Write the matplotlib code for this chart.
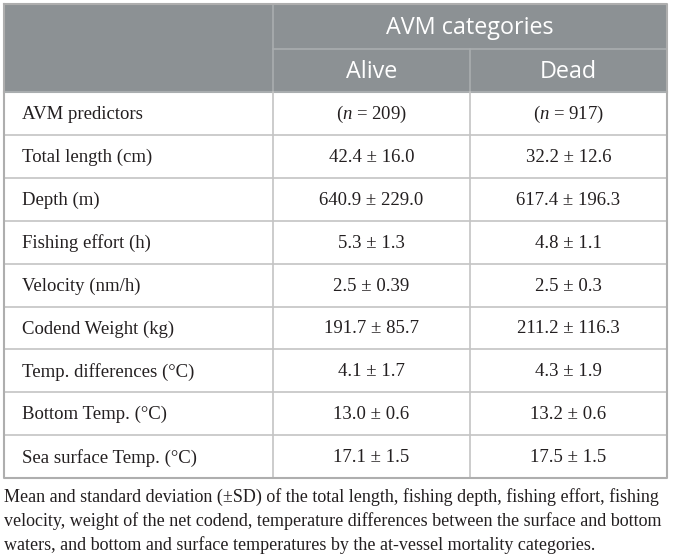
import matplotlib
matplotlib.use("Agg")
import matplotlib.pyplot as plt
from matplotlib.patches import Rectangle

# table content
group_title = "AVM categories"
col_titles = ["Alive", "Dead"]
row_labels = ["AVM predictors", "Total length (cm)", "Depth (m)", "Fishing effort (h)",
              "Velocity (nm/h)", "Codend Weight (kg)", "Temp. differences (\u00b0C)",
              "Bottom Temp. (\u00b0C)", "Sea surface Temp. (\u00b0C)"]
alive_vals = ["(n = 209)", "42.4 \u00b1 16.0", "640.9 \u00b1 229.0", "5.3 \u00b1 1.3",
              "2.5 \u00b1 0.39", "191.7 \u00b1 85.7", "4.1 \u00b1 1.7", "13.0 \u00b1 0.6",
              "17.1 \u00b1 1.5"]
dead_vals = ["(n = 917)", "32.2 \u00b1 12.6", "617.4 \u00b1 196.3", "4.8 \u00b1 1.1",
             "2.5 \u00b1 0.3", "211.2 \u00b1 116.3", "4.3 \u00b1 1.9", "13.2 \u00b1 0.6",
             "17.5 \u00b1 1.5"]
caption_lines = [
    "Mean and standard deviation (\u00b1SD) of the total length, fishing depth, fishing effort, fishing",
    "velocity, weight of the net codend, temperature differences between the surface and bottom",
    "waters, and bottom and surface temperatures by the at-vessel mortality categories.",
]

W, H = 673, 560
fig = plt.figure(figsize=(W / 100, H / 100), dpi=100)
ax = fig.add_axes([0, 0, 1, 1])
ax.set_xlim(0, W)
ax.set_ylim(H, 0)
ax.axis("off")

# layout in pixels
left, right = 4, 667
col1, col2 = 273, 470
top, head_mid, head_bot = 4, 49, 92
row_h = 42.9
bottom = head_bot + row_h * len(row_labels)

head_col = "#8c9194"
head_line = "#a9adaf"
grid_col = "#c4c4c4"
border_col = "#aeaeae"
txt_col = "#231f20"

serif = "Liberation Serif"
sans = "Open Sans"
body_fs = 13.5
head_fs = 16.8

ax.add_patch(Rectangle((left, top), right - left, head_bot - top, color=head_col, lw=0))
ax.plot([col1, right], [head_mid, head_mid], color=head_line, lw=1.2)
ax.plot([col1, col1], [top, head_bot], color=head_line, lw=1.2)
ax.plot([col2, col2], [head_mid, head_bot], color=head_line, lw=1.2)
ax.plot([left, right], [head_bot, head_bot], color=head_line, lw=1.5)

ax.text((col1 + right) / 2, (top + head_mid) / 2 + 1, group_title, ha="center", va="center",
        color="white", fontsize=head_fs, family=sans)
for i, t in enumerate(col_titles):
    cx = [(col1 + col2) / 2, (col2 + right) / 2][i]
    ax.text(cx, (head_mid + head_bot) / 2 + 1, t, ha="center", va="center",
            color="white", fontsize=head_fs, family=sans)

for i in range(1, len(row_labels)):
    y = head_bot + row_h * i
    ax.plot([left, right], [y, y], color=grid_col, lw=1.2)
ax.plot([col1, col1], [head_bot, bottom], color=grid_col, lw=1.2)
ax.plot([col2, col2], [head_bot, bottom], color=grid_col, lw=1.2)

# outer border
ax.plot([left, right, right, left, left], [top, top, bottom, bottom, top],
        color=border_col, lw=1.5)

plt.rcParams["mathtext.fontset"] = "custom"
plt.rcParams["mathtext.rm"] = serif
plt.rcParams["mathtext.it"] = serif + ":italic"

for i, lab in enumerate(row_labels):
    cy = head_bot + row_h * (i + 0.5) + 1
    ax.text(left + 18, cy, lab, ha="left", va="center", color=txt_col,
            fontsize=body_fs, family=serif)
    a, d = alive_vals[i], dead_vals[i]
    if a.startswith("(n"):
        a = a.replace("n", "$n$", 1)
        d = d.replace("n", "$n$", 1)
    ax.text((col1 + col2) / 2, cy, a, ha="center", va="center", color=txt_col,
            fontsize=body_fs, family=serif)
    ax.text((col2 + right) / 2, cy, d, ha="center", va="center", color=txt_col,
            fontsize=body_fs, family=serif)

for k, line in enumerate(caption_lines):
    ax.text(left, bottom + 24 + 24 * k, line, ha="left", va="baseline", color=txt_col,
            fontsize=13.0, family=serif)

fig.savefig("out.png", dpi=100)
